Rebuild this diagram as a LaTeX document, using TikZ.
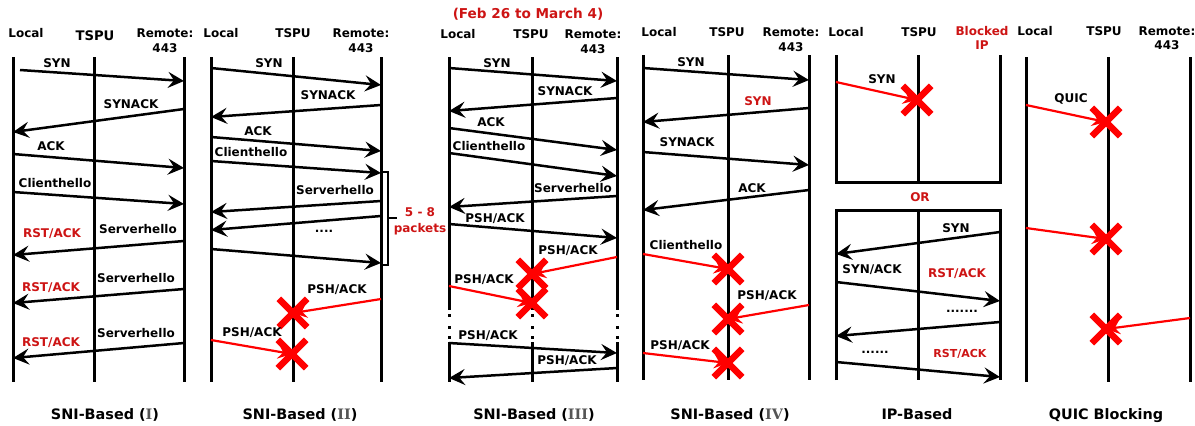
\documentclass[tikz,border=0pt]{standalone}
\usepackage{fontspec}
\setmainfont{DejaVu Sans}
\newfontfamily\numfont{DejaVu Serif}
\usetikzlibrary{arrows.meta,shapes.misc}

\definecolor{lblred}{RGB}{205,20,20}
\definecolor{numgray}{RGB}{85,85,85}
\newcommand{\rnum}[1]{({\numfont\color{numgray}#1})}

\tikzset{
  lifeline/.style={line width=1.5pt},
  msg/.style={line width=1.25pt, -{Stealth[length=8pt,width=8pt,inset=3pt]}},
  drop/.style={red, line width=1.1pt, -{Stealth[length=7pt,width=7pt,inset=2.5pt]}},
  xmark/.style={cross out, draw=red, line width=3.2pt, minimum size=11pt, inner sep=0pt},
  lbl/.style={font=\fontsize{6}{7}\selectfont\bfseries, inner sep=0pt, text height=4.4pt, text depth=0pt},
  redlbl/.style={lbl, text=lblred},
  caption/.style={font=\fontsize{7.2}{8}\selectfont\bfseries, inner sep=0pt, text height=5.3pt, text depth=0pt}
}

\begin{document}
\begin{tikzpicture}[x=0.5pt, y=-0.5pt]
\useasboundingbox (0,0) rectangle (1195,425);

% lifelines
\foreach \x in {13,94,184, 211,293,381, 1026,1108,1190}
  \draw[lifeline] (\x,57) -- (\x,382);
\foreach \x in {643,728,809}
  \draw[lifeline] (\x,55) -- (\x,380);
\foreach \x in {449,532,617} {
  \draw[lifeline] (\x,57) -- (\x,310);
  \draw[lifeline] (\x,342) -- (\x,382);
  \foreach \y in {315,327,337}
    \fill (\x-1.5,\y-1.5) rectangle (\x+1.5,\y+1.5);
}
% IP-based boxes
\draw[lifeline] (836,55) -- (836,182) -- (1000,182) -- (1000,55);
\draw[lifeline] (918,55) -- (918,182);
\draw[lifeline] (836,380) -- (836,210) -- (1000,210) -- (1000,380);
\draw[lifeline] (918,210) -- (918,380);

% headers
\node[lbl] (h1l) at (26,33) {Local};
\node[lbl, font=\fontsize{6.6}{7}\selectfont\bfseries] (h1t) at (95,36) {TSPU};
\node[lbl] (h1r) at (165,33) {Remote:};
\node[lbl] (h1p) at (165,48) {443};
\node[lbl] (h2l) at (221,33) {Local};
\node[lbl] (h2t) at (293,33) {TSPU};
\node[lbl] (h2r) at (361,33) {Remote:};
\node[lbl] (h2p) at (361,48) {443};
\node[redlbl, font=\fontsize{6.8}{7}\selectfont\bfseries] (date) at (528,14) {(Feb 26 to March 4)};
\node[lbl] (h3l) at (458,34) {Local};
\node[lbl] (h3t) at (531,34) {TSPU};
\node[lbl] (h3r) at (593,34) {Remote:};
\node[lbl] (h3p) at (593,49) {443};
\node[lbl] (h4l) at (659,32) {Local};
\node[lbl] (h4t) at (727,32) {TSPU};
\node[lbl] (h4r) at (791,32) {Remote:};
\node[lbl] (h4p) at (791,47) {443};
\node[lbl] (h5l) at (846,32) {Local};
\node[lbl] (h5t) at (919,32) {TSPU};
\node[redlbl] (h5b) at (982,31) {Blocked};
\node[redlbl] (h5i) at (982,45) {IP};
\node[lbl] (h6l) at (1035,31) {Local};
\node[lbl] (h6t) at (1104,31) {TSPU};
\node[lbl] (h6r) at (1167,31) {Remote:};
\node[lbl] (h6p) at (1167,45) {443};

% packets that get through
\foreach \n/\xa/\ya/\xb/\yb in {
    p1a/20/70/184/81, p1b/184/109/13/132, p1c/13/154/184/168, p1d/13/192/184/204,
    p1e/184/241/13/255, p1f/184/289/13/303, p1g/184/343/13/358,
    p2a/211/68/381/85, p2b/381/105/211/117, p2c/211/137/381/151, p2d/211/161/381/173,
    p2e/381/201/211/212, p2f/381/216/211/230, p2g/211/249/381/263,
    p3a/449/68/617/81, p3b/617/98/449/111, p3c/449/128/617/150, p3d/449/153/617/176,
    p3e/617/196/449/207, p3f/449/224/617/238, p3g/449/343/617/353, p3h/617/368/449/378,
    p4a/643/68/809/80, p4b/809/108/643/122, p4c/643/152/809/165, p4d/809/190/643/210,
    p5a/1000/232/836/254, p5b/836/282/1000/301, p5c/1000/322/836/336, p5d/836/362/1000/377} {
  \coordinate (\n-s) at (\xa,\ya);
  \coordinate (\n-e) at (\xb,\yb);
  \draw[msg] (\n-s) -- (\n-e);
}

% dropped packets
\foreach \n/\xa/\ya/\xb/\yb in {
    d21/381/299/293/313, d22/211/340/292/354,
    d31/617/257/532/274, d32/449/286/532/303,
    d41/643/254/728/269, d42/809/305/728/319, d43/643/353/728/363,
    d51/836/82/917/100,
    d61/1026/105/1106/122, d62/1026/228/1106/239, d63/1190/318/1106/329} {
  \coordinate (\n-s) at (\xa,\ya);
  \coordinate (\n-c) at (\xb,\yb);
  \draw[drop] (\n-s) -- (\n-c);
  \node[xmark] (\n-x) at (\n-c) {};
}

% 5 - 8 packets bracket
\coordinate (br-a) at (381,172);
\coordinate (br-b) at (388,172);
\coordinate (br-c) at (388,265);
\coordinate (br-d) at (381,265);
\coordinate (br-m) at (388,218);
\coordinate (br-t) at (397,218);
\draw[line width=1.2pt] (br-a) -- (br-b) -- (br-c) -- (br-d);
\draw[line width=1.2pt] (br-m) -- (br-t);
\node[redlbl] (n58) at (420,212) {5 - 8};
\node[redlbl] (npk) at (420,228) {packets};

% labels (I)
\node[lbl] (l1a) at (57,63) {SYN};
\node[lbl] (l1b) at (131,104) {SYNACK};
\node[lbl] (l1c) at (51,146) {ACK};
\node[lbl] (l1d) at (55,183) {Clienthello};
\node[lbl] (l1e) at (138,229) {Serverhello};
\node[redlbl] (r1e) at (52,233) {RST/ACK};
\node[lbl] (l1f) at (136,278) {Serverhello};
\node[redlbl] (r1f) at (51,287) {RST/ACK};
\node[lbl] (l1g) at (136,333) {Serverhello};
\node[redlbl] (r1g) at (51,342) {RST/ACK};

% labels (II)
\node[lbl] (l2a) at (269,63) {SYN};
\node[lbl] (l2b) at (328,95) {SYNACK};
\node[lbl] (l2c) at (258,131) {ACK};
\node[lbl] (l2d) at (251,152) {Clienthello};
\node[lbl] (l2e) at (335,190) {Serverhello};
\node[lbl] (l2f) at (324,228) {....};
\node[lbl] (l2x) at (337,289) {PSH/ACK};
\node[lbl] (l2y) at (252,332) {PSH/ACK};

% labels (III)
\node[lbl] (l3a) at (497,63) {SYN};
\node[lbl] (l3b) at (565,91) {SYNACK};
\node[lbl] (l3c) at (491,122) {ACK};
\node[lbl] (l3d) at (489,146) {Clienthello};
\node[lbl] (l3e) at (573,188) {Serverhello};
\node[lbl] (l3f) at (495,218) {PSH/ACK};
\node[lbl] (l3x) at (568,250) {PSH/ACK};
\node[lbl] (l3y) at (484,279) {PSH/ACK};
\node[lbl] (l3g) at (488,335) {PSH/ACK};
\node[lbl] (l3h) at (567,360) {PSH/ACK};

% labels (IV)
\node[lbl] (l4a) at (691,62) {SYN};
\node[redlbl] (l4b) at (758,101) {SYN};
\node[lbl] (l4c) at (687,142) {SYNACK};
\node[lbl] (l4d) at (752,188) {ACK};
\node[lbl] (l4x) at (686,245) {Clienthello};
\node[lbl] (l4y) at (767,295) {PSH/ACK};
\node[lbl] (l4z) at (680,345) {PSH/ACK};

% labels IP
\node[lbl] (l5x) at (882,79) {SYN};
\node[redlbl] (l5or) at (920,197) {OR};
\node[lbl] (l5a) at (956,228) {SYN};
\node[lbl] (l5b) at (872,269) {SYN/ACK};
\node[redlbl] (r5b) at (957,273) {RST/ACK};
\node[lbl] (l5c) at (962,308) {.......};
\node[lbl] (l5d) at (875,349) {......};
\node[redlbl, font=\fontsize{5.5}{6}\selectfont\bfseries] (r5d) at (960,353) {RST/ACK};

% labels QUIC
\node[lbl] (l6x) at (1071,98) {QUIC};

% captions
\node[caption] (c1) at (105,414) {SNI-Based \rnum{I}};
\node[caption] (c2) at (300,414) {SNI-Based \rnum{II}};
\node[caption] (c3) at (534,414) {SNI-Based \rnum{III}};
\node[caption] (c4) at (730,414) {SNI-Based \rnum{IV}};
\node[caption] (c5) at (917,414) {IP-Based};
\node[caption] (c6) at (1106,414) {QUIC Blocking};
\end{tikzpicture}
\end{document}
